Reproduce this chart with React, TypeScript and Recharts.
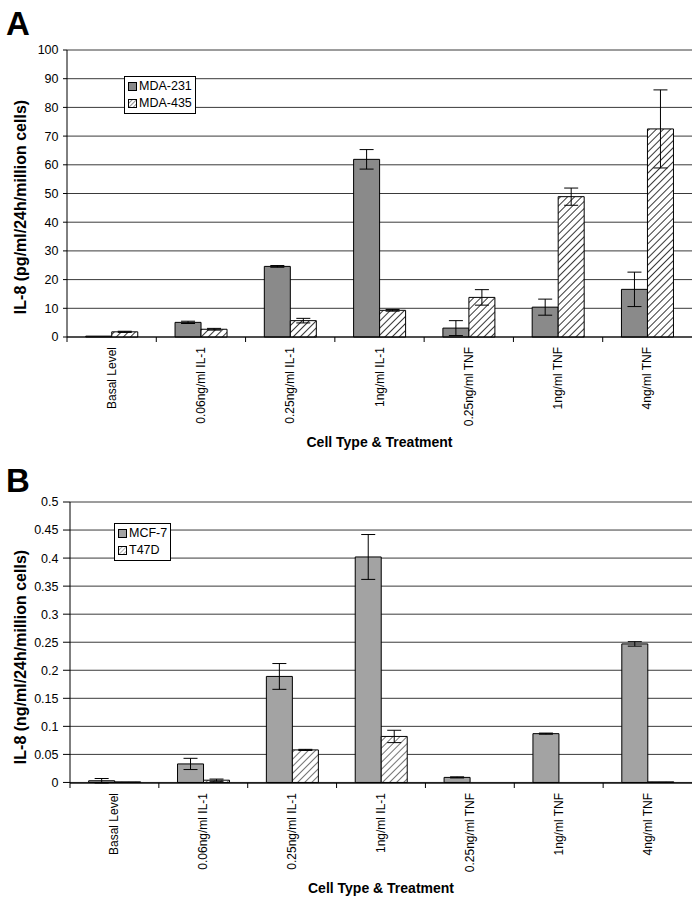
import { Bar, BarChart, CartesianGrid, ErrorBar, Legend, XAxis, YAxis } from "recharts"

const categories = ["Basal Level", "0.06ng/ml IL-1", "0.25ng/ml IL-1", "1ng/ml IL-1", "0.25ng/ml TNF", "1ng/ml TNF", "4ng/ml TNF"]

// panel A (pg/ml)
const mda231 = [0.3, 5.1, 24.6, 61.9, 3.1, 10.4, 16.6]
const mda231Err = [0, 0.4, 0.3, 3.4, 2.6, 2.8, 6.0]
const mda435 = [1.8, 2.7, 5.7, 9.3, 13.8, 48.9, 72.5]
const mda435Err = [0.2, 0.3, 0.8, 0.3, 2.7, 3.0, 13.6]
const ticksA = [0, 10, 20, 30, 40, 50, 60, 70, 80, 90, 100]

// panel B (ng/ml)
const mcf7 = [0.003, 0.033, 0.189, 0.402, 0.009, 0.087, 0.247]
const mcf7Err = [0.004, 0.01, 0.023, 0.04, 0.001, 0.001, 0.004]
const t47d = [0.001, 0.004, 0.058, 0.082, 0, 0, 0.001]
const t47dErr = [0, 0.002, 0.001, 0.011, 0, 0, 0]
const ticksB = [0, 0.05, 0.1, 0.15, 0.2, 0.25, 0.3, 0.35, 0.4, 0.45, 0.5]

const FONT = "'Liberation Sans', Arial, sans-serif"
const W = 695
const RIGHT = 3
const X_AXIS_H = 100

type Row = { name: string; a: number; aErr: number; b: number; bErr: number }

const rowsA: Row[] = categories.map((name, i) => ({ name, a: mda231[i], aErr: mda231Err[i], b: mda435[i], bErr: mda435Err[i] }))
const rowsB: Row[] = categories.map((name, i) => ({ name, a: mcf7[i], aErr: mcf7Err[i], b: t47d[i], bErr: t47dErr[i] }))

function XTick(props: any) {
  const { x, y, payload, band } = props
  return (
    <g>
      <line x1={x - band / 2} y1={y} x2={x - band / 2} y2={y + 5} stroke="#000" />
      <text transform={`translate(${x},${y + 10}) rotate(-90)`} textAnchor="end" dominantBaseline="central" fontSize={12} fill="#000">
        {payload.value}
      </text>
    </g>
  )
}

function LegendBox({ items, hatchColor }: { items: { label: string; solid?: string }[]; hatchColor: string }) {
  return (
    <div style={{ border: "1px solid #000", background: "#fff", padding: "1px 3px 1px 3px", fontSize: 12.5, lineHeight: "17px", fontFamily: FONT, color: "#000" }}>
      {items.map((it) => (
        <div key={it.label} style={{ display: "flex", alignItems: "center", whiteSpace: "nowrap" }}>
          <svg width={9} height={9} style={{ marginRight: 2 }}>
            <defs>
              <pattern id={"lg" + it.label} patternUnits="userSpaceOnUse" width={3} height={3} patternTransform="rotate(45)">
                <line x1={0} y1={0} x2={0} y2={3} stroke={hatchColor} strokeWidth={1} />
              </pattern>
            </defs>
            <rect x={0.5} y={0.5} width={8} height={8} fill={it.solid ?? `url(#lg${it.label})`} stroke="#000" />
          </svg>
          {it.label}
        </div>
      ))}
    </div>
  )
}

function Panel({
  rows, top, height, plotTop, plotBottom, plotLeft, tickSize, domain, ticks, letter, letterBase, yTitle, yTitleY, xTitleBase,
  solid, hatchColor, legendItems, legendPos, id,
}: {
  rows: Row[]; top: number; height: number; plotTop: number; plotBottom: number; plotLeft: number; tickSize: number
  domain: [number, number]; ticks: number[]; letter: string; letterBase: number; yTitle: string; yTitleY: number; xTitleBase: number
  solid: string; hatchColor: string; legendItems: { label: string; solid?: string }[]; legendPos: { left: number; top: number }; id: string
}) {
  const band = (W - plotLeft - RIGHT) / categories.length
  const xCenter = plotLeft + (W - plotLeft - RIGHT) / 2
  return (
    <div style={{ position: "absolute", left: 0, top, width: W, height }}>
      <BarChart
        width={W}
        height={height}
        data={rows}
        margin={{ top: plotTop, right: RIGHT, left: 0, bottom: height - plotBottom - X_AXIS_H }}
        barCategoryGap="21%"
        barGap={0}
      >
        <defs>
          <pattern id={id} patternUnits="userSpaceOnUse" width={5} height={5} patternTransform="rotate(45)">
            <rect x={0} y={0} width={5} height={5} fill="#fff" />
            <line x1={0} y1={0} x2={0} y2={5} stroke={hatchColor} strokeWidth={1.8} />
          </pattern>
        </defs>
        <CartesianGrid vertical={false} stroke="#3a3a3a" />
        <XAxis
          dataKey="name"
          interval={0}
          height={X_AXIS_H}
          tickSize={0}
          tickMargin={0}
          axisLine={{ stroke: "#000" }}
          tickLine={false}
          tick={(p: any) => <XTick {...p} band={band} />}
        />
        <YAxis
          width={plotLeft}
          domain={domain}
          ticks={ticks}
          interval={0}
          tickSize={tickSize}
          tickMargin={4.5}
          axisLine={{ stroke: "#000" }}
          tickLine={{ stroke: "#000" }}
          tick={{ fontSize: 12.5, fill: "#000" }}
        />
        <Legend
          layout="vertical"
          align="center"
          verticalAlign="middle"
          wrapperStyle={{ left: legendPos.left, top: legendPos.top, width: "auto", height: "auto" }}
          content={() => <LegendBox items={legendItems} hatchColor={hatchColor} />}
        />
        <Bar dataKey="a" fill={solid} stroke="#000" strokeWidth={1} isAnimationActive={false}>
          <ErrorBar dataKey="aErr" width={7} stroke="#000" strokeWidth={1} direction="y" />
        </Bar>
        <Bar dataKey="b" fill={`url(#${id})`} stroke="#000" strokeWidth={1} isAnimationActive={false}>
          <ErrorBar dataKey="bErr" width={7} stroke="#000" strokeWidth={1} direction="y" />
        </Bar>
      </BarChart>
      <svg width={W} height={height} style={{ position: "absolute", left: 0, top: 0, pointerEvents: "none" }}>
        <text x={6} y={letterBase} fontSize={33} fontWeight="bold" fill="#000">{letter}</text>
        <text transform={`translate(26,${yTitleY}) rotate(-90)`} textAnchor="middle" fontSize={16} fontWeight="bold" fill="#000">{yTitle}</text>
        <text x={xCenter} y={xTitleBase} textAnchor="middle" fontSize={14} fontWeight="bold" fill="#000">Cell Type &amp; Treatment</text>
      </svg>
    </div>
  )
}

export default function App() {
  return (
    <div style={{ position: "absolute", left: 0, top: 0, width: W, height: 899, background: "#fff", fontFamily: FONT }}>
      <Panel
        id="hatchA"
        rows={rowsA}
        top={0}
        height={450}
        plotTop={50}
        plotBottom={337}
        plotLeft={67}
        tickSize={4}
        domain={[0, 100]}
        ticks={ticksA}
        letter="A"
        letterBase={35}
        yTitle="IL-8 (pg/ml/24h/million cells)"
        yTitleY={207}
        xTitleBase={447}
        solid="#8a8a8a"
        hatchColor="#222"
        legendItems={[{ label: "MDA-231", solid: "#8a8a8a" }, { label: "MDA-435" }]}
        legendPos={{ left: 124, top: 76 }}
      />
      <Panel
        id="hatchB"
        rows={rowsB}
        top={450}
        height={449}
        plotTop={52}
        plotBottom={333}
        plotLeft={70}
        tickSize={7}
        domain={[0, 0.5]}
        ticks={ticksB}
        letter="B"
        letterBase={42}
        yTitle="IL-8 (ng/ml/24h/million cells)"
        yTitleY={207}
        xTitleBase={443}
        solid="#a3a3a3"
        hatchColor="#666"
        legendItems={[{ label: "MCF-7", solid: "#a3a3a3" }, { label: "T47D" }]}
        legendPos={{ left: 114, top: 73 }}
      />
    </div>
  )
}
